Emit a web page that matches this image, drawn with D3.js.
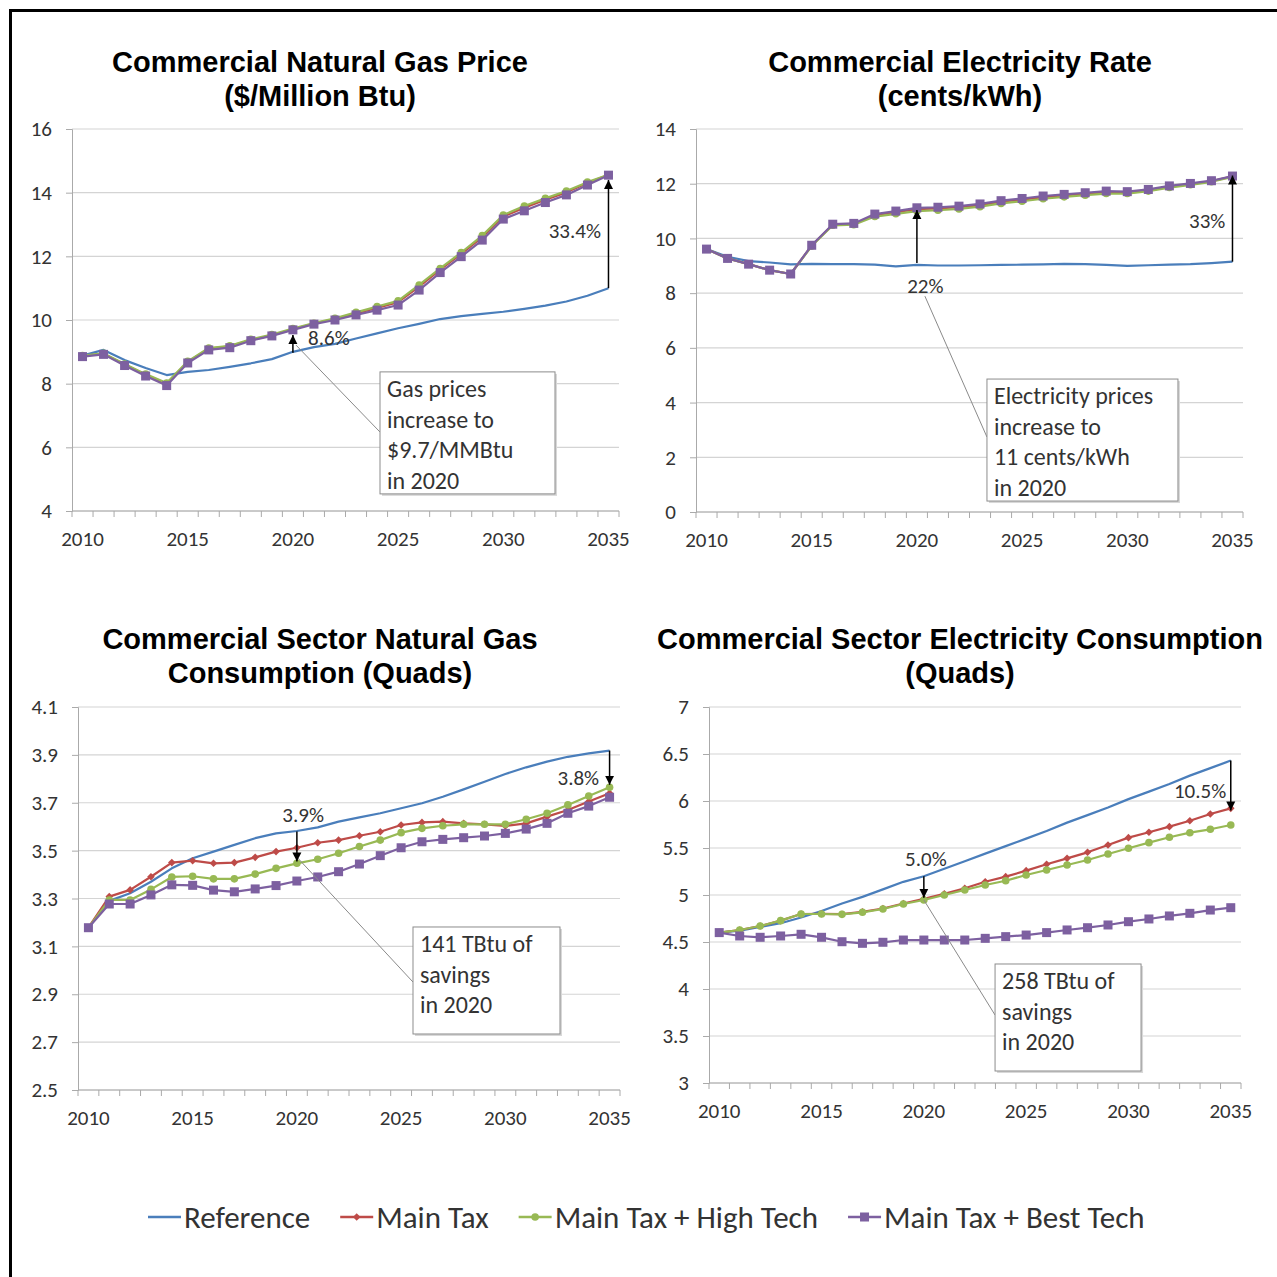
<!DOCTYPE html>
<html>
<head>
<meta charset="utf-8">
<script src="https://cdn.jsdelivr.net/npm/d3@7"></script>
<style>
  body { margin: 0; background: #fff; }
  text { font-family: Carlito, Lato, sans-serif; fill: #333; }
  .title { font-family: 'Liberation Sans', Arial, sans-serif; font-weight: bold; fill: #000; }
</style>
</head>
<body>
<svg width="1277" height="1277"></svg>
<script>
// categories
const years = d3.range(2010, 2036)
const xLabelYears = [2010, 2015, 2020, 2025, 2030, 2035]
const seriesNames = ['Reference', 'Main Tax', 'Main Tax + High Tech', 'Main Tax + Best Tech']
const seriesColors = ['#4a7ebb', '#be4b48', '#98b954', '#7d60a0']
const seriesMarkers = ['none', 'diamond', 'circle', 'square']

// commercial natural gas price ($/Million Btu)
const gasPriceRef = [8.88, 9.06, 8.74, 8.49, 8.27, 8.37, 8.43, 8.53, 8.64, 8.77, 9.0, 9.15, 9.25, 9.42, 9.58, 9.74, 9.88, 10.03, 10.12, 10.19, 10.26, 10.35, 10.45, 10.58, 10.76, 11.0]
const gasPriceTax = [8.87, 8.94, 8.6, 8.28, 8.0, 8.68, 9.1, 9.17, 9.37, 9.52, 9.71, 9.89, 10.03, 10.21, 10.38, 10.56, 11.05, 11.58, 12.08, 12.6, 13.25, 13.53, 13.78, 14.01, 14.3, 14.56]
const gasPriceHigh = [8.88, 8.95, 8.62, 8.3, 8.02, 8.7, 9.12, 9.19, 9.39, 9.54, 9.73, 9.9, 10.05, 10.24, 10.42, 10.6, 11.1, 11.62, 12.12, 12.65, 13.3, 13.58, 13.82, 14.05, 14.33, 14.56]
const gasPriceBest = [8.85, 8.92, 8.57, 8.24, 7.94, 8.65, 9.06, 9.13, 9.35, 9.5, 9.69, 9.87, 10.0, 10.16, 10.31, 10.47, 10.94, 11.49, 11.99, 12.51, 13.17, 13.43, 13.69, 13.93, 14.24, 14.55]

// commercial electricity rate (cents/kWh)
const elecRateRef = [9.61, 9.33, 9.17, 9.12, 9.05, 9.07, 9.06, 9.06, 9.04, 8.98, 9.03, 9.01, 9.01, 9.02, 9.03, 9.04, 9.05, 9.07, 9.06, 9.03, 9.0, 9.02, 9.04, 9.06, 9.1, 9.15]
const elecRateTax = [9.61, 9.27, 9.06, 8.84, 8.7, 9.74, 10.5, 10.53, 10.85, 10.96, 11.07, 11.1, 11.14, 11.22, 11.34, 11.42, 11.51, 11.57, 11.63, 11.69, 11.68, 11.76, 11.89, 11.99, 12.09, 12.27]
const elecRateHigh = [9.61, 9.27, 9.06, 8.84, 8.7, 9.72, 10.48, 10.5, 10.8, 10.9, 11.0, 11.03, 11.08, 11.16, 11.28, 11.36, 11.45, 11.52, 11.58, 11.64, 11.64, 11.73, 11.86, 11.96, 12.07, 12.25]
const elecRateBest = [9.61, 9.27, 9.06, 8.84, 8.7, 9.75, 10.52, 10.55, 10.89, 11.0, 11.12, 11.14, 11.18, 11.26, 11.38, 11.46, 11.55, 11.61, 11.67, 11.73, 11.71, 11.79, 11.92, 12.01, 12.11, 12.28]

// commercial sector natural gas consumption (quads)
const gasConsRef = [3.178, 3.29, 3.322, 3.37, 3.426, 3.468, 3.496, 3.524, 3.552, 3.572, 3.582, 3.597, 3.621, 3.639, 3.656, 3.677, 3.698, 3.725, 3.756, 3.788, 3.82, 3.848, 3.872, 3.892, 3.906, 3.918]
const gasConsTax = [3.178, 3.308, 3.336, 3.391, 3.45, 3.458, 3.447, 3.45, 3.472, 3.496, 3.512, 3.533, 3.544, 3.562, 3.579, 3.607, 3.618, 3.621, 3.614, 3.61, 3.603, 3.614, 3.642, 3.67, 3.705, 3.74]
const gasConsHigh = [3.178, 3.294, 3.294, 3.338, 3.39, 3.393, 3.382, 3.382, 3.402, 3.426, 3.447, 3.464, 3.489, 3.517, 3.544, 3.575, 3.593, 3.604, 3.61, 3.61, 3.61, 3.631, 3.656, 3.691, 3.728, 3.765]
const gasConsBest = [3.178, 3.277, 3.277, 3.315, 3.357, 3.355, 3.335, 3.328, 3.34, 3.354, 3.373, 3.39, 3.412, 3.444, 3.479, 3.512, 3.537, 3.547, 3.554, 3.561, 3.572, 3.59, 3.614, 3.656, 3.686, 3.723]

// commercial sector electricity consumption (quads)
const elecConsRef = [4.6, 4.62, 4.66, 4.7, 4.76, 4.83, 4.91, 4.98, 5.06, 5.14, 5.2, 5.28, 5.36, 5.44, 5.52, 5.6, 5.68, 5.77, 5.85, 5.93, 6.02, 6.1, 6.18, 6.27, 6.35, 6.43]
const elecConsTax = [4.6, 4.628, 4.67, 4.727, 4.798, 4.8, 4.796, 4.82, 4.856, 4.91, 4.96, 5.012, 5.071, 5.141, 5.195, 5.259, 5.327, 5.39, 5.454, 5.532, 5.61, 5.667, 5.727, 5.79, 5.862, 5.922]
const elecConsHigh = [4.6, 4.628, 4.67, 4.727, 4.798, 4.798, 4.794, 4.816, 4.851, 4.904, 4.947, 5.0, 5.053, 5.106, 5.152, 5.213, 5.266, 5.319, 5.372, 5.436, 5.497, 5.557, 5.614, 5.663, 5.699, 5.745]
const elecConsBest = [4.6, 4.564, 4.55, 4.564, 4.582, 4.55, 4.503, 4.486, 4.497, 4.521, 4.521, 4.521, 4.521, 4.539, 4.557, 4.574, 4.6, 4.628, 4.652, 4.681, 4.716, 4.745, 4.777, 4.805, 4.84, 4.865]

// y tick labels
const gasPriceTicks = [4, 6, 8, 10, 12, 14, 16]
const elecRateTicks = [0, 2, 4, 6, 8, 10, 12, 14]
const gasConsTicks = ['2.5', '2.7', '2.9', '3.1', '3.3', '3.5', '3.7', '3.9', '4.1']
const elecConsTicks = ['3', '3.5', '4', '4.5', '5', '5.5', '6', '6.5', '7']

const svg = d3.select('svg')

svg.append('defs').append('marker')
  .attr('id', 'arrowhead')
  .attr('viewBox', '0 0 10 10')
  .attr('refX', 10).attr('refY', 5)
  .attr('markerUnits', 'userSpaceOnUse')
  .attr('markerWidth', 9).attr('markerHeight', 10)
  .attr('orient', 'auto')
  .append('path').attr('d', 'M0,0L10,5L0,10Z').attr('fill', '#000')

// outer frame (runs off the right and bottom edges)
svg.append('path')
  .attr('d', 'M10.5,1290V10.5H1290')
  .attr('fill', 'none').attr('stroke', '#000').attr('stroke-width', 3)

const panels = [
  {
    title: ['Commercial Natural Gas Price', '($/Million Btu)'], titleX: 320, titleY: 62,
    left: 72, right: 619, top: 129, bottom: 511, domain: [4, 16], ticks: gasPriceTicks,
    series: [gasPriceRef, gasPriceTax, gasPriceHigh, gasPriceBest],
    arrows: [{ year: 2020, from: 8.97, to: 9.53 }, { year: 2035, from: 11.0, to: 14.4 }],
    labels: [{ text: '8.6%', year: 2020.72, value: 9.43, anchor: 'start' },
             { text: '33.4%', year: 2033.4, value: 12.8, anchor: 'middle' }],
    pointer: [[2020.15, 9.21], [2024.14, 6.48]],
    box: { year: 2024.14, value: 8.37, w: 175, h: 122, lines: ['Gas prices', 'increase to', '$9.7/MMBtu', 'in 2020'] }
  },
  {
    title: ['Commercial Electricity Rate', '(cents/kWh)'], titleX: 960, titleY: 62,
    left: 696, right: 1243, top: 129, bottom: 512, domain: [0, 14], ticks: elecRateTicks,
    series: [elecRateRef, elecRateTax, elecRateHigh, elecRateBest],
    arrows: [{ year: 2020, from: 9.1, to: 11.04 }, { year: 2035, from: 9.15, to: 12.3 }],
    labels: [{ text: '22%', year: 2020.4, value: 8.26, anchor: 'middle' },
             { text: '33%', year: 2033.8, value: 10.64, anchor: 'middle' }],
    pointer: [[2020.38, 7.89], [2023.33, 2.74]],
    box: { year: 2023.33, value: 4.86, w: 191, h: 122, lines: ['Electricity prices', 'increase to', '11 cents/kWh', 'in 2020'] }
  },
  {
    title: ['Commercial Sector Natural Gas', 'Consumption (Quads)'], titleX: 320, titleY: 639,
    left: 78, right: 620, top: 707, bottom: 1090, domain: [2.5, 4.1], ticks: gasConsTicks,
    series: [gasConsRef, gasConsTax, gasConsHigh, gasConsBest],
    arrows: [{ year: 2020, from: 3.58, to: 3.455 }, { year: 2035, from: 3.918, to: 3.775 }],
    labels: [{ text: '3.9%', year: 2020.3, value: 3.649, anchor: 'middle' },
             { text: '3.8%', year: 2033.5, value: 3.803, anchor: 'middle' }],
    pointer: [[2020.0, 3.473], [2025.57, 2.951]],
    box: { year: 2025.57, value: 3.181, w: 147, h: 107, lines: ['141 TBtu of', 'savings', 'in 2020'] }
  },
  {
    title: ['Commercial Sector Electricity Consumption', '(Quads)'], titleX: 960, titleY: 639,
    left: 709, right: 1241, top: 707, bottom: 1083, domain: [3, 7], ticks: elecConsTicks,
    series: [elecConsRef, elecConsTax, elecConsHigh, elecConsBest],
    arrows: [{ year: 2020, from: 5.2, to: 4.97 }, { year: 2035, from: 6.43, to: 5.9 }],
    labels: [{ text: '5.0%', year: 2020.1, value: 5.383, anchor: 'middle' },
             { text: '10.5%', year: 2033.5, value: 6.106, anchor: 'middle' }],
    pointer: [[2020.0, 4.947], [2023.48, 3.723]],
    box: { year: 2023.48, value: 4.266, w: 146, h: 107, lines: ['258 TBtu of', 'savings', 'in 2020'] }
  }
]

const drawMarker = (sel, type, color) => {
  if (type === 'square') {
    sel.append('rect').attr('x', -4.5).attr('y', -4.5).attr('width', 9).attr('height', 9).attr('fill', color)
  } else if (type === 'circle') {
    sel.append('circle').attr('r', 3.8).attr('fill', color)
  } else if (type === 'diamond') {
    sel.append('path').attr('d', 'M0,-3.8L3.8,0L0,3.8L-3.8,0Z').attr('fill', color)
  }
}

const drawPanel = (p) => {
  const g = svg.append('g')

  const x = d3.scaleBand().domain(years).range([p.left, p.right])
  const bw = x.bandwidth()
  const xc = (yr) => x(yr) + bw / 2
  const xLin = d3.scaleLinear().domain([2010, 2035]).range([xc(2010), xc(2035)])
  const y = d3.scaleLinear().domain(p.domain).range([p.bottom, p.top])

  // title
  g.selectAll('.title').data(p.title).join('text')
    .attr('class', 'title')
    .attr('x', p.titleX).attr('y', (d, i) => p.titleY + i * 34)
    .attr('dy', '0.35em')
    .attr('text-anchor', 'middle')
    .attr('font-size', 29)
    .text(d => d)

  // gridlines
  g.append('g').selectAll('line').data(p.ticks.map(Number)).join('line')
    .attr('x1', p.left).attr('x2', p.right)
    .attr('y1', d => y(d)).attr('y2', d => y(d))
    .attr('stroke', '#d4d4d4').attr('stroke-width', 1.2)

  // y axis
  const yAxis = g.append('g')
    .attr('transform', `translate(${p.left},0)`)
    .call(d3.axisLeft(y).tickValues(p.ticks.map(Number)).tickSize(6).tickPadding(14)
      .tickFormat((d, i) => String(p.ticks[i])))
  yAxis.select('.domain').attr('stroke', '#aaa')
  yAxis.selectAll('.tick line').attr('stroke', '#aaa')
  yAxis.selectAll('.tick text').attr('font-size', 21).attr('fill', '#333')
    .style('font-family', 'Carlito, Lato, sans-serif')

  // x axis: ticks at category boundaries, labels every 5 years
  const boundaries = years.map(d => x(d)).concat([p.right])
  g.append('line')
    .attr('x1', p.left).attr('x2', p.right)
    .attr('y1', p.bottom).attr('y2', p.bottom)
    .attr('stroke', '#aaa')
  g.append('g').selectAll('line').data(boundaries).join('line')
    .attr('x1', d => d).attr('x2', d => d)
    .attr('y1', p.bottom).attr('y2', p.bottom + 6)
    .attr('stroke', '#aaa')
  g.append('g').selectAll('text').data(xLabelYears).join('text')
    .attr('x', d => xc(d)).attr('y', p.bottom + 28)
    .attr('dy', '0.35em')
    .attr('text-anchor', 'middle')
    .attr('font-size', 21)
    .text(d => d)

  // series lines and markers
  const line = d3.line().x((d, i) => xc(years[i])).y(d => y(d))
  p.series.forEach((vals, si) => {
    g.append('path')
      .attr('d', line(vals))
      .attr('fill', 'none')
      .attr('stroke', seriesColors[si])
      .attr('stroke-width', 2.2)
      .attr('stroke-linejoin', 'round')
    if (seriesMarkers[si] !== 'none') {
      g.append('g').selectAll('g').data(vals).join('g')
        .attr('transform', (d, i) => `translate(${xc(years[i])},${y(d)})`)
        .each(function () { drawMarker(d3.select(this), seriesMarkers[si], seriesColors[si]) })
    }
  })

  // pointer line to the note box
  g.append('line')
    .attr('x1', xLin(p.pointer[0][0])).attr('y1', y(p.pointer[0][1]))
    .attr('x2', xLin(p.pointer[1][0])).attr('y2', y(p.pointer[1][1]))
    .attr('stroke', '#8a8a8a').attr('stroke-width', 1)

  // difference arrows
  g.append('g').selectAll('line').data(p.arrows).join('line')
    .attr('x1', d => xc(d.year)).attr('x2', d => xc(d.year))
    .attr('y1', d => y(d.from)).attr('y2', d => y(d.to))
    .attr('stroke', '#000').attr('stroke-width', 1.5)
    .attr('marker-end', 'url(#arrowhead)')

  g.append('g').selectAll('text').data(p.labels).join('text')
    .attr('x', d => xLin(d.year)).attr('y', d => y(d.value))
    .attr('dy', '0.35em')
    .attr('text-anchor', d => d.anchor)
    .attr('font-size', 21)
    .text(d => d.text)

  // note box
  const bx = xLin(p.box.year), by = y(p.box.value)
  g.append('rect')
    .attr('x', bx + 2).attr('y', by + 2).attr('width', p.box.w).attr('height', p.box.h)
    .attr('fill', '#d8d8d8')
  g.append('rect')
    .attr('x', bx).attr('y', by).attr('width', p.box.w).attr('height', p.box.h)
    .attr('fill', '#fff').attr('stroke', '#8c8c8c').attr('stroke-width', 1)
  g.append('g').selectAll('text').data(p.box.lines).join('text')
    .attr('x', bx + 7).attr('y', (d, i) => by + 17 + i * 30.5)
    .attr('dy', '0.35em')
    .attr('font-size', 24)
    .attr('fill', '#222')
    .text(d => d)
}

panels.forEach(drawPanel)

// legend
const legend = svg.append('g').attr('transform', 'translate(148,1217)')
let lx = 0
seriesNames.forEach((name, i) => {
  const item = legend.append('g').attr('transform', `translate(${lx},0)`)
  item.append('line').attr('x1', 0).attr('x2', 33).attr('y1', 0).attr('y2', 0)
    .attr('stroke', seriesColors[i]).attr('stroke-width', 2.5)
  const m = item.append('g').attr('transform', 'translate(16.5,0)')
  drawMarker(m, seriesMarkers[i], seriesColors[i])
  const t = item.append('text').attr('x', 36).attr('dy', '0.35em')
    .attr('font-size', 31).attr('fill', '#1a1a1a').text(name)
  lx += 36 + t.node().getComputedTextLength() + 30
})
</script>
</body>
</html>
